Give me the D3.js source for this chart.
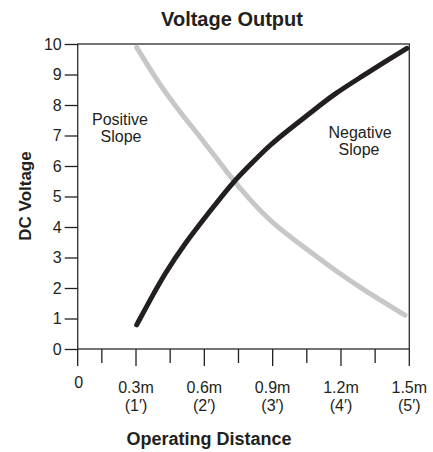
<!DOCTYPE html>
<html>
<head>
<meta charset="utf-8">
<script src="https://cdn.jsdelivr.net/npm/d3@7"></script>
<style>
  html, body { margin: 0; padding: 0; background: #fff; }
  svg text { font-family: "Liberation Sans Narrow", "Arial Narrow", "Liberation Sans", sans-serif; fill: #231f20; }
</style>
</head>
<body>
<svg id="chart" width="433" height="452"></svg>
<script>
// ---- data ----
const title = "Voltage Output";
const xTitle = "Operating Distance";
const yTitle = "DC Voltage";
const xOriginLabel = "0";
const xMajorTicks = [0.3, 0.6, 0.9, 1.2, 1.5];
const xTickLabelsM = ["0.3m", "0.6m", "0.9m", "1.2m", "1.5m"];
const xTickLabelsFt = ["(1\u2032)", "(2\u2032)", "(3\u2032)", "(4\u2032)", "(5\u2032)"];
const xMinorTicks = [0.15, 0.45, 0.75, 1.05, 1.35];
const yTicks = [0, 1, 2, 3, 4, 5, 6, 7, 8, 9, 10];

// rising curve (black)
const blackX = [0.303, 0.354, 0.427, 0.515, 0.618, 0.720, 0.808, 0.888, 0.969, 1.072, 1.174, 1.291, 1.394, 1.489];
const blackY = [0.79, 1.50, 2.48, 3.47, 4.45, 5.43, 6.09, 6.69, 7.18, 7.78, 8.38, 8.93, 9.42, 9.86];
// falling curve (grey)
const greyX = [0.303, 0.40, 0.50, 0.60, 0.70, 0.80, 0.90, 1.00, 1.10, 1.20, 1.30, 1.40, 1.481];
const greyY = [9.89, 8.70, 7.70, 6.79, 5.78, 4.88, 4.12, 3.55, 2.99, 2.44, 1.94, 1.48, 1.11];

const labelPositive = ["Positive", "Slope"];
const labelNegative = ["Negative", "Slope"];

// ---- layout ----
const svg = d3.select("#chart");
const mLeft = 77.7, mRight = 409.3, mTop = 44, mBottom = 349;
const ink = "#231f20";

const x = d3.scaleLinear().domain([0.044, 1.5]).range([mLeft, mRight]);
const y = d3.scaleLinear().domain([0, 10]).range([mBottom, mTop]);

// frame
svg.append("rect")
  .attr("x", mLeft).attr("y", mTop)
  .attr("width", mRight - mLeft).attr("height", mBottom - mTop)
  .attr("fill", "none").attr("stroke", "#3a3a3a").attr("stroke-width", 1.4);

// y axis
const yAxis = d3.axisLeft(y).tickValues(yTicks).tickSize(13).tickPadding(3).tickFormat(d3.format("d"));
const gy = svg.append("g").attr("transform", `translate(${mLeft},0)`).call(yAxis);
gy.attr("font-family", null).attr("font-size", null);
gy.select(".domain").remove();
gy.selectAll(".tick line").attr("stroke", ink).attr("stroke-width", 1.3);
gy.selectAll(".tick text").attr("font-size", 16).attr("fill", ink);

// x axis ticks
const gx = svg.append("g").attr("transform", `translate(0,${mBottom})`);
gx.selectAll("line.major").data([x.domain()[0]].concat(xMajorTicks)).enter().append("line")
  .attr("x1", d => x(d)).attr("x2", d => x(d))
  .attr("y1", 0).attr("y2", 17)
  .attr("stroke", ink).attr("stroke-width", 1.3);
gx.selectAll("line.minor").data(xMinorTicks).enter().append("line")
  .attr("x1", d => x(d)).attr("x2", d => x(d))
  .attr("y1", 0).attr("y2", 14)
  .attr("stroke", ink).attr("stroke-width", 1.3);

gx.selectAll("text.m").data(xMajorTicks).enter().append("text")
  .attr("x", d => x(d)).attr("y", 44)
  .attr("text-anchor", "middle").attr("font-size", 16)
  .text((d, i) => xTickLabelsM[i]);
gx.selectAll("text.ft").data(xMajorTicks).enter().append("text")
  .attr("x", d => x(d)).attr("y", 62)
  .attr("text-anchor", "middle").attr("font-size", 16)
  .text((d, i) => xTickLabelsFt[i]);
gx.append("text")
  .attr("x", x(x.domain()[0]) + 1).attr("y", 39)
  .attr("text-anchor", "middle").attr("font-size", 16)
  .text(xOriginLabel);

// curves
const line = d3.line().x(d => x(d[0])).y(d => y(d[1])).curve(d3.curveBasis);
svg.append("path")
  .datum(greyX.map((v, i) => [v, greyY[i]]))
  .attr("d", line).attr("fill", "none")
  .attr("stroke", "#c6c7c9").attr("stroke-width", 5).attr("stroke-linecap", "round");
svg.append("path")
  .datum(blackX.map((v, i) => [v, blackY[i]]))
  .attr("d", line).attr("fill", "none")
  .attr("stroke", ink).attr("stroke-width", 5).attr("stroke-linecap", "round");

// annotations
svg.append("text").attr("x", 120).attr("y", 125).attr("text-anchor", "middle").attr("font-size", 16).text(labelPositive[0]);
svg.append("text").attr("x", 121).attr("y", 142).attr("text-anchor", "middle").attr("font-size", 16).text(labelPositive[1]);
svg.append("text").attr("x", 360).attr("y", 138).attr("text-anchor", "middle").attr("font-size", 16).text(labelNegative[0]);
svg.append("text").attr("x", 359).attr("y", 155).attr("text-anchor", "middle").attr("font-size", 16).text(labelNegative[1]);

// titles
svg.append("text").attr("x", 232).attr("y", 26).attr("text-anchor", "middle")
  .attr("font-size", 20).attr("font-weight", "bold").text(title);
svg.append("text").attr("x", 209).attr("y", 445).attr("text-anchor", "middle")
  .attr("font-size", 18).attr("font-weight", "bold").text(xTitle);
svg.append("text").attr("transform", "translate(31,196) rotate(-90)").attr("text-anchor", "middle")
  .attr("font-size", 17).attr("font-weight", "bold").text(yTitle);
</script>
</body>
</html>
